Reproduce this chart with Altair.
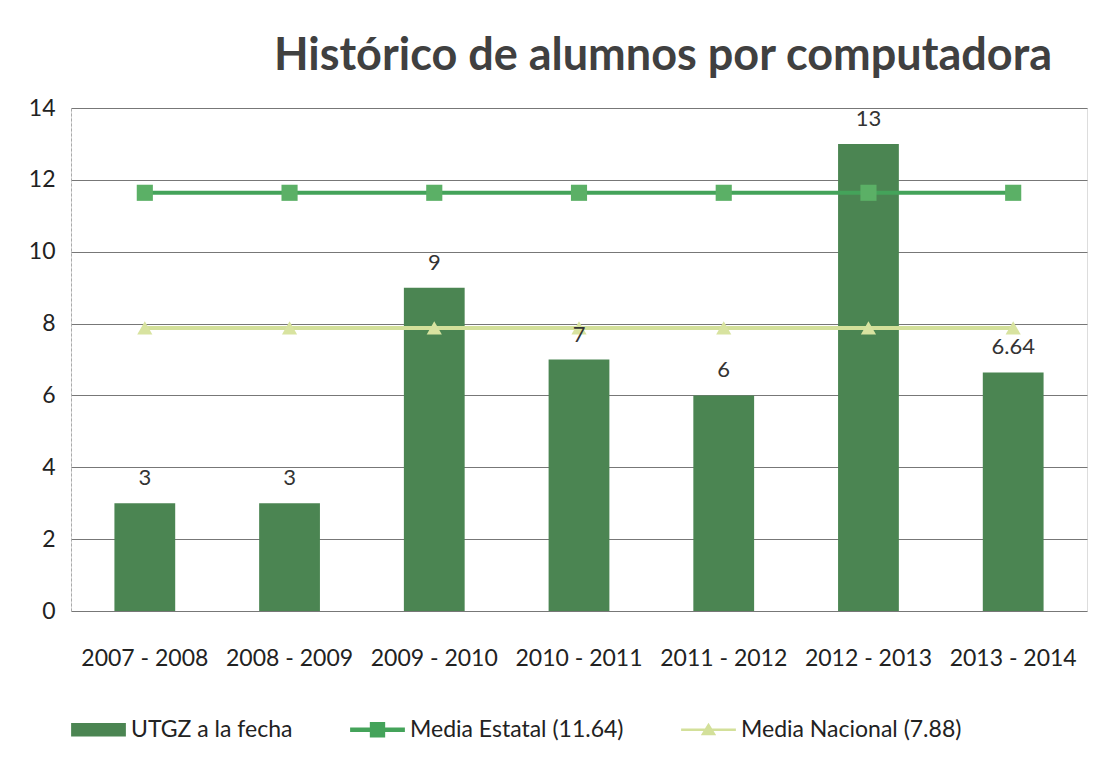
import altair as alt
import pandas as pd

periodos = ["2007  - 2008", "2008  - 2009", "2009 - 2010", "2010 - 2011",
            "2011 - 2012", "2012 - 2013", "2013 - 2014"]
utgz = [3, 3, 9, 7, 6, 13, 6.64]
utgz_etiquetas = ["3", "3", "9", "7", "6", "13", "6.64"]
media_estatal = [11.64] * 7
media_nacional = [7.88] * 7

s_bar = "UTGZ a la fecha"
s_est = "Media Estatal (11.64)"
s_nac = "Media Nacional (7.88)"
series = [s_bar, s_est, s_nac]
colores = ["#4B8552", "#44A35A", "#D3E09A"]

FONT = "Lato"

bars_df = pd.DataFrame({"periodo": periodos, "valor": utgz, "etiqueta": utgz_etiquetas, "serie": s_bar})
lines_df = pd.concat([
    pd.DataFrame({"periodo": periodos, "valor": media_estatal, "serie": s_est}),
    pd.DataFrame({"periodo": periodos, "valor": media_nacional, "serie": s_nac}),
])

legend_shape = (
    "datum.value === '" + s_bar + "' ? 'M-1,-0.25L1,-0.25L1,0.25L-1,0.25Z' : "
    "datum.value === '" + s_est + "' ? 'M-1,-0.08L1,-0.08L1,0.08L-1,0.08Z M-0.28,-0.28L0.28,-0.28L0.28,0.28L-0.28,0.28Z' : "
    "'M-1,-0.05L1,-0.05L1,0.05L-1,0.05Z M0,-0.26L0.28,0.2L-0.28,0.2Z'"
)

x_enc = alt.X("periodo:N", sort=periodos, title=None,
              scale=alt.Scale(paddingInner=0.58, paddingOuter=0.3),
              axis=alt.Axis(labelAngle=0, labelFontSize=23, labelColor="#222222",
                            labelFont=FONT, labelPadding=36, domain=False, ticks=False))
y_enc = alt.Y("valor:Q", title=None,
              scale=alt.Scale(domain=[0, 14]),
              axis=alt.Axis(values=[0, 2, 4, 6, 8, 10, 12, 14], labelFontSize=23,
                            labelColor="#222222", labelFont=FONT, labelPadding=16,
                            domain=True, domainColor="#aaaaaa", domainDash=[3, 2],
                            ticks=False, grid=True, gridColor="#777777", gridWidth=1.2))

color_scale = alt.Scale(domain=series, range=colores)
legend = alt.Legend(
    orient="bottom", direction="horizontal", title=None, labelFontSize=23,
    labelFont=FONT, labelColor="#222222", symbolSize=3000, columnPadding=57,
    offset=32, labelOffset=5, labelLimit=0, symbolStrokeWidth=0, symbolOpacity=1,
    symbolType={"expr": legend_shape},
)

bars = alt.Chart(bars_df).mark_bar(color="#4B8552").encode(
    x=x_enc, y=y_enc,
    color=alt.Color("serie:N", scale=color_scale, legend=legend),
)
text = alt.Chart(bars_df).mark_text(dy=-25, fontSize=22, font=FONT, color="#333333").encode(
    x=alt.X("periodo:N", sort=periodos), y="valor:Q", text="etiqueta:N"
)
lines = alt.Chart(lines_df).mark_line(strokeWidth=4).encode(
    x=alt.X("periodo:N", sort=periodos), y="valor:Q",
    color=alt.Color("serie:N", scale=color_scale, legend=legend),
)
pts_est = alt.Chart(lines_df[lines_df.serie == s_est]).mark_point(
    shape="square", filled=True, size=260, opacity=1, color="#5BB066").encode(
    x=alt.X("periodo:N", sort=periodos), y="valor:Q")
pts_nac = alt.Chart(lines_df[lines_df.serie == s_nac]).mark_point(
    shape="triangle-up", filled=True, size=230, opacity=1, color="#D8E3A0").encode(
    x=alt.X("periodo:N", sort=periodos), y="valor:Q")

chart = alt.layer(bars, lines, pts_est, pts_nac, text).properties(
    width=1016, height=503,
    title=alt.TitleParams("Histórico de alumnos por computadora", fontSize=45,
                          font=FONT, fontWeight="bold", color="#404040",
                          anchor="end", dx=-35, offset=18),
    padding={"left": 20, "top": 26, "right": 2, "bottom": 2},
).configure_view(stroke=None).configure(background="white")

chart.save("out.html", embed_options={"renderer": "svg", "actions": False})
